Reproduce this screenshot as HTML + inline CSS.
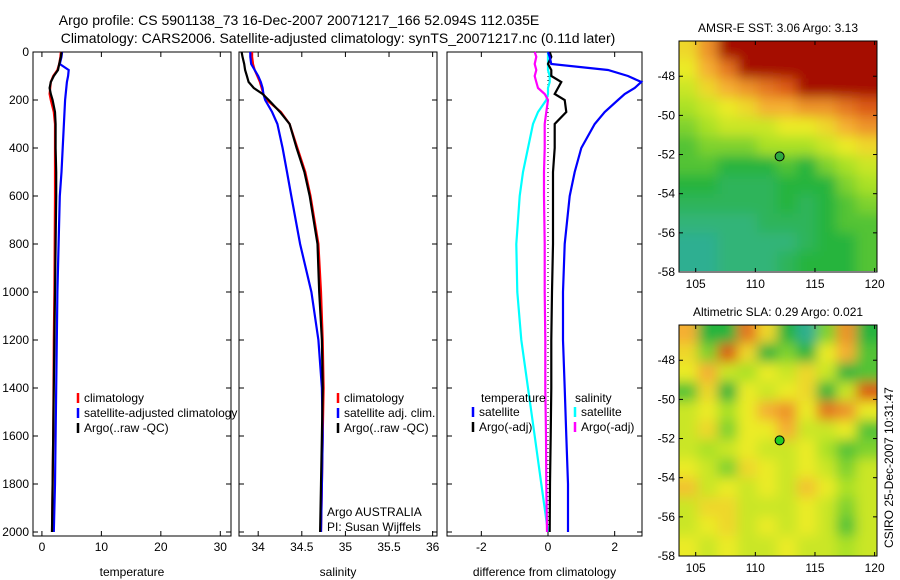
<!DOCTYPE html>
<html><head><meta charset="utf-8"><style>
body{margin:0;background:#fff;}
svg{display:block;font-family:"Liberation Sans",sans-serif;}
</style></head><body>
<svg id="fig" width="900" height="580" xmlns="http://www.w3.org/2000/svg">
<defs>
<filter id="blur" x="-5%" y="-5%" width="110%" height="110%"><feGaussianBlur stdDeviation="6"/></filter>
<clipPath id="clipA"><rect x="679" y="41" width="198" height="230"/></clipPath>
<clipPath id="clipB"><rect x="679" y="325" width="198" height="231"/></clipPath>
</defs>
<text x="299" y="25" font-size="14" text-anchor="middle">Argo profile: CS 5901138_73 16-Dec-2007 20071217_166 52.094S 112.035E</text>
<text x="338" y="43" font-size="14" text-anchor="middle">Climatology: CARS2006. Satellite-adjusted climatology: synTS_20071217.nc (0.11d later)</text>
<g id="plots"></g>
</svg>
<script>
const depths=[0,20,50,75,100,125,150,175,200,250,300,400,500,600,800,1000,1200,1400,1600,1800,2000];
const climT=[3.2,3.1,2.9,2.6,1.9,1.5,1.4,1.3,1.5,2.0,2.2,2.2,2.2,2.2,2.15,2.1,2.0,1.95,1.9,1.8,1.7];
const satT=[3.4,3.3,3.0,4.5,4.4,4.2,4.1,4.0,3.9,3.8,3.7,3.5,3.3,3.0,2.8,2.6,2.5,2.4,2.3,2.2,2.0];
const argoT=[3.3,3.2,2.9,2.7,2.0,1.5,1.3,1.5,1.8,2.2,2.3,2.3,2.4,2.4,2.3,2.2,2.1,2.0,1.9,1.8,1.7];
const climS=[33.93,33.93,33.94,33.96,33.99,34.02,34.04,34.06,34.1,34.26,34.36,34.45,34.54,34.6,34.69,34.72,34.74,34.75,34.74,34.73,34.72];
const satS=[33.91,33.91,33.92,33.96,34.0,34.03,34.05,34.06,34.08,34.16,34.22,34.28,34.33,34.38,34.48,34.61,34.69,34.73,34.74,34.73,34.72];
const argoS=[33.81,33.82,33.84,33.85,33.87,33.89,33.95,34.05,34.12,34.25,34.36,34.44,34.53,34.59,34.68,34.70,34.73,34.74,34.73,34.72,34.71];
const dSatT=[0,0.05,0.1,1.8,2.4,2.8,2.6,2.3,2.1,1.7,1.4,1.0,0.8,0.65,0.5,0.45,0.45,0.5,0.55,0.6,0.6];
const dArgoT=[0.05,0.1,0.0,0.1,0.1,0.4,0.3,0.2,0.5,0.55,0.2,0.2,0.15,0.15,0.15,0.12,0.1,0.1,0.08,0.06,0.05];
const dSatS=[0,0,0,0,0.05,0.05,0,0,-0.05,-0.3,-0.45,-0.6,-0.75,-0.85,-0.95,-0.92,-0.8,-0.6,-0.4,-0.2,0];
const dArgoS=[-0.4,-0.35,-0.4,-0.35,-0.4,-0.35,-0.3,-0.1,0,-0.05,-0.1,-0.1,-0.12,-0.12,-0.1,-0.1,-0.08,-0.08,-0.06,-0.05,-0.03];
const depthTicks=[0,200,400,600,800,1000,1200,1400,1600,1800,2000];
const tTicks=[0,10,20,30];
const sTicks=[34,34.5,35,35.5,36];
const dTicks=[-2,0,2];
const lonTicks=[105,110,115,120];
const latTicks=[-48,-50,-52,-54,-56,-58];
const sstGrid=[
[0.6,0.75,0.95,0.95,0.95,0.95,0.95,0.95,0.95,0.95],
[0.55,0.7,0.8,0.95,0.95,0.95,0.95,0.95,0.95,0.95],
[0.5,0.6,0.7,0.75,0.8,0.85,0.95,0.95,0.95,0.95],
[0.45,0.5,0.55,0.6,0.7,0.7,0.75,0.75,0.8,0.85],
[0.4,0.45,0.5,0.5,0.5,0.55,0.55,0.6,0.7,0.75],
[0.35,0.4,0.4,0.4,0.45,0.45,0.45,0.5,0.55,0.6],
[0.35,0.35,0.3,0.3,0.3,0.35,0.3,0.4,0.45,0.5],
[0.3,0.3,0.25,0.25,0.25,0.3,0.3,0.3,0.4,0.45],
[0.25,0.25,0.25,0.25,0.25,0.3,0.25,0.3,0.35,0.4],
[0.2,0.2,0.2,0.2,0.25,0.25,0.25,0.3,0.35,0.35],
[0.15,0.15,0.2,0.2,0.2,0.2,0.25,0.3,0.3,0.35],
[0.15,0.15,0.2,0.2,0.2,0.25,0.3,0.3,0.3,0.35]];
const slaGrid=[
[0.7,0.3,0.3,0.8,0.6,0.3,0.15,0.4,0.75,0.3],
[0.6,0.4,0.85,0.6,0.3,0.4,0.3,0.55,0.7,0.35],
[0.55,0.7,0.5,0.45,0.55,0.5,0.6,0.5,0.3,0.35],
[0.35,0.6,0.3,0.55,0.5,0.55,0.6,0.3,0.5,0.85],
[0.5,0.55,0.45,0.55,0.7,0.75,0.55,0.8,0.75,0.55],
[0.5,0.6,0.4,0.55,0.55,0.7,0.5,0.5,0.55,0.35],
[0.5,0.45,0.5,0.55,0.5,0.5,0.55,0.45,0.35,0.4],
[0.55,0.5,0.4,0.6,0.55,0.5,0.55,0.5,0.4,0.5],
[0.65,0.5,0.55,0.5,0.55,0.5,0.65,0.55,0.45,0.5],
[0.5,0.6,0.6,0.5,0.5,0.5,0.55,0.5,0.4,0.5],
[0.5,0.55,0.6,0.5,0.55,0.5,0.55,0.5,0.35,0.5],
[0.55,0.5,0.55,0.5,0.5,0.55,0.5,0.5,0.45,0.5]];

const NS="http://www.w3.org/2000/svg";
const G=document.getElementById('plots');
function el(tag,attrs,parent){const e=document.createElementNS(NS,tag);for(const k in attrs)e.setAttribute(k,attrs[k]);(parent||G).appendChild(e);return e;}
function txt(x,y,s,anchor,size,parent){const t=el('text',{x:x,y:y,'font-size':size||12,'text-anchor':anchor||'start'},parent);t.textContent=s;return t;}
const yD=d=>52+d*0.24;

function profilePanel(name,x0,x1,xmin,xmax,xticks,xlabel,showDepth){
  const g=el('g',{});
  
  
  const xs=v=>x0+(v-xmin)/(xmax-xmin)*(x1-x0);
  el('rect',{x:x0,y:52,width:x1-x0,height:484,fill:'none',stroke:'#000','stroke-width':1},g);
  xticks.forEach(v=>{const x=xs(v);el('line',{x1:x,x2:x,y1:536,y2:531,stroke:'#000'},g);el('line',{x1:x,x2:x,y1:52,y2:57,stroke:'#000'},g);
    const t=txt(x,551,String(v),'middle',12,g);});
  depthTicks.forEach(d=>{const y=yD(d);el('line',{x1:x0,x2:x0+5,y1:y,y2:y,stroke:'#000'},g);el('line',{x1:x1,x2:x1-5,y1:y,y2:y,stroke:'#000'},g);
    if(showDepth){const t=txt(x0-4,y+4,String(d),'end',12,g);}});
  const xl=txt((x0+x1)/2,576,xlabel,'middle',12,g);
  
  
  return {g,xs};
}
function line(p,vals,color,name,dmax,dash){
  let pts=[];depths.forEach((d,i)=>{if(d<=(dmax||2000))pts.push(p.xs(vals[i]).toFixed(1)+','+yD(d).toFixed(1));});
  const l=el('polyline',{points:pts.join(' '),fill:'none',stroke:color,'stroke-width':2.2},p.g);
  if(dash)l.setAttribute('stroke-dasharray',dash);
  
  
}
function legend(g,x,y,items){
  items.forEach((it,i)=>{el('line',{x1:x,x2:x,y1:y+i*15-9,y2:y+i*15+1,stroke:it[1],'stroke-width':2.5},g);
    const t=txt(x+6,y+i*15,it[0],'start',12,g);});
}
const p1=profilePanel('temperature-panel',33,231,-1.5,31.8,tTicks,'temperature',true);
line(p1,climT,'#f00','climatology-temperature-line');
line(p1,satT,'#00f','satellite-temperature-line');
line(p1,argoT,'#000','argo-temperature-line');
legend(p1.g,78,402,[['climatology','#f00'],['satellite-adjusted climatology','#00f'],['Argo(..raw -QC)','#000']]);
const p2=profilePanel('salinity-panel',239,437,33.78,36.05,sTicks,'salinity',false);
line(p2,climS,'#f00','climatology-salinity-line');
line(p2,satS,'#00f','satellite-salinity-line');
line(p2,argoS,'#000','argo-salinity-line');
legend(p2.g,338,402,[['climatology','#f00'],['satellite adj. clim.','#00f'],['Argo(..raw -QC)','#000']]);
txt(327,516,'Argo AUSTRALIA','start',12,p2.g);
txt(327,531,'PI: Susan Wijffels','start',12,p2.g);
const p3=profilePanel('difference-panel',447,642,-3.03,2.82,dTicks,'difference from climatology',false);
el('line',{x1:p3.xs(0),x2:p3.xs(0),y1:52,y2:536,stroke:'#000','stroke-dasharray':'1,3'},p3.g);
line(p3,dSatS,'#0ff','satellite-salinity-diff-line');
line(p3,dArgoS,'#f0f','argo-salinity-diff-line');
line(p3,dArgoT,'#000','argo-temperature-diff-line');
line(p3,dSatT,'#00f','satellite-temperature-diff-line');
txt(481,402,'temperature','start',12,p3.g);
txt(575,402,'salinity','start',12,p3.g);
legend(p3.g,473,416,[['satellite','#00f'],['Argo(-adj)','#000']]);
legend(p3.g,575,416,[['satellite','#0ff'],['Argo(-adj)','#f0f']]);

const cmapStops=[[0.1,[40,170,170]],[0.2,[50,180,120]],[0.3,[40,180,60]],[0.45,[170,225,40]],[0.55,[235,235,40]],[0.7,[245,175,50]],[0.85,[220,90,25]],[0.95,[165,10,0]]];
function cmap(v){for(let i=0;i<cmapStops.length-1;i++){const a=cmapStops[i],b=cmapStops[i+1];if(v<=b[0]){const t=Math.max(0,(v-a[0])/(b[0]-a[0]));return 'rgb('+a[1].map((c,j)=>Math.round(c+(b[1][j]-c)*t)).join(',')+')';}}return 'rgb(165,10,0)';}
function mapPanel(name,title,grid,y0,clip,dotColor){
  const g=el('g',{});
  
  
  const x0=679,w=198,h=231;
  const lonX=l=>x0+(l-103.6)/(120.2-103.6)*w;
  const latY=l=>y0+(-46.2-l)/(11.8)*h;
  const cg=el('g',{'clip-path':'url(#'+clip+')'},g);
  const ig=el('g',{filter:'url(#blur)'},cg);
  const rows=grid.length,cols=grid[0].length,cw=w/cols,ch=h/rows;
  grid.forEach((row,r)=>row.forEach((v,c)=>{
    const ext=(c===0?-15:0),extR=(c===cols-1?15:0),extT=(r===0?-15:0),extB=(r===rows-1?15:0);
    const rc=el('rect',{x:x0+c*cw-1+ext,y:y0+r*ch-1+extT,width:cw+2-ext+extR,height:ch+2-extT+extB,fill:cmap(v)},ig);
    
    }));
  el('rect',{x:x0,y:y0,width:w,height:h,fill:'none',stroke:'#000'},g);
  lonTicks.forEach(l=>{const x=lonX(l);el('line',{x1:x,x2:x,y1:y0+h,y2:y0+h-4,stroke:'#000'},g);el('line',{x1:x,x2:x,y1:y0,y2:y0+4,stroke:'#000'},g);txt(x,y0+h+16,String(l),'middle',12,g);});
  latTicks.forEach(l=>{const y=latY(l);el('line',{x1:x0,x2:x0+4,y1:y,y2:y,stroke:'#000'},g);el('line',{x1:x0+w,x2:x0+w-4,y1:y,y2:y,stroke:'#000'},g);txt(x0-4,y+4,String(l),'end',12,g);});
  const t=txt(x0+w/2,y0-9,title,'middle',12,g);
  const dot=el('circle',{cx:lonX(112.035),cy:latY(-52.094),r:4.5,fill:dotColor,stroke:'#000','stroke-width':1},g);
  
  
}
mapPanel('sst-map','AMSR-E SST: 3.06 Argo: 3.13',sstGrid,41,'clipA','#2faa40');
mapPanel('sla-map','Altimetric SLA: 0.29 Argo: 0.021',slaGrid,325,'clipB','#22cc22');
const stamp=txt(0,0,'CSIRO 25-Dec-2007 10:31:47','start',12);
stamp.setAttribute('transform','translate(893,548) rotate(-90)');


</script>
</body></html>
